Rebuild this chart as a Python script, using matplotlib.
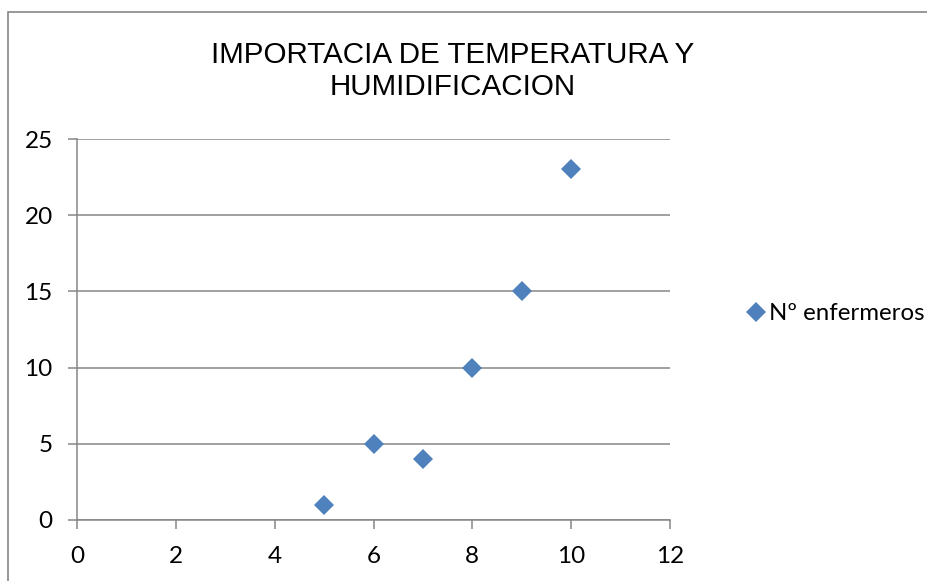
import matplotlib
matplotlib.use("Agg")
import matplotlib.pyplot as plt
import matplotlib.patches as mpatches

plt.rcParams['font.family'] = ['Lato', 'DejaVu Sans']

x = [5, 6, 7, 8, 9, 10]
y = [1, 5, 4, 10, 15, 23]
xticks = [0, 2, 4, 6, 8, 10, 12]
yticks = [0, 5, 10, 15, 20, 25]
serie = 'Nº enfermeros'
titulo = 'IMPORTACIA DE TEMPERATURA Y\nHUMIDIFICACION'

gris = '#868686'
azul = '#4F81BD'

fig = plt.figure(figsize=(9.27, 5.81), dpi=100)
fig.patches.append(mpatches.Rectangle((8/927, -0.1), 1.2, 1.1 - 12/581,
                                      transform=fig.transFigure, fill=False,
                                      edgecolor=gris, lw=1.2))
ax = fig.add_axes([77/927, 1 - 520/581, 593/927, 381/581])
ax.plot(x, y, linestyle='none', marker='D', ms=10, color=azul, mew=0, label=serie)
ax.set_xlim(0, 12)
ax.set_ylim(0, 25)
ax.set_xticks(xticks)
ax.set_yticks(yticks)
ax.grid(axis='y', color=gris, lw=1.1)
ax.set_axisbelow(True)
for s in ['top', 'right']:
    ax.spines[s].set_visible(False)
for s in ['left', 'bottom']:
    ax.spines[s].set_color(gris)
    ax.spines[s].set_linewidth(1.1)
ax.tick_params(axis='both', direction='out', length=6.5, width=1.1, color=gris,
               labelsize=17.5, labelcolor='black')
ax.tick_params(axis='y', pad=11)
ax.tick_params(axis='x', pad=12)

fig.text(453/927, 1 - 71/581, titulo, ha='center', va='center', fontsize=21.3,
         family=['Liberation Sans', 'DejaVu Sans'], linespacing=1.18)

# leyenda a la derecha, casi pegada al borde como en el original
ax.legend(loc='center left', bbox_to_anchor=(749/927, 1 - 314/581),
          bbox_transform=fig.transFigure, frameon=False, fontsize=17.3,
          handlelength=0.6, handletextpad=0.25, borderaxespad=0, borderpad=0)

fig.savefig('out.png', dpi=100)
